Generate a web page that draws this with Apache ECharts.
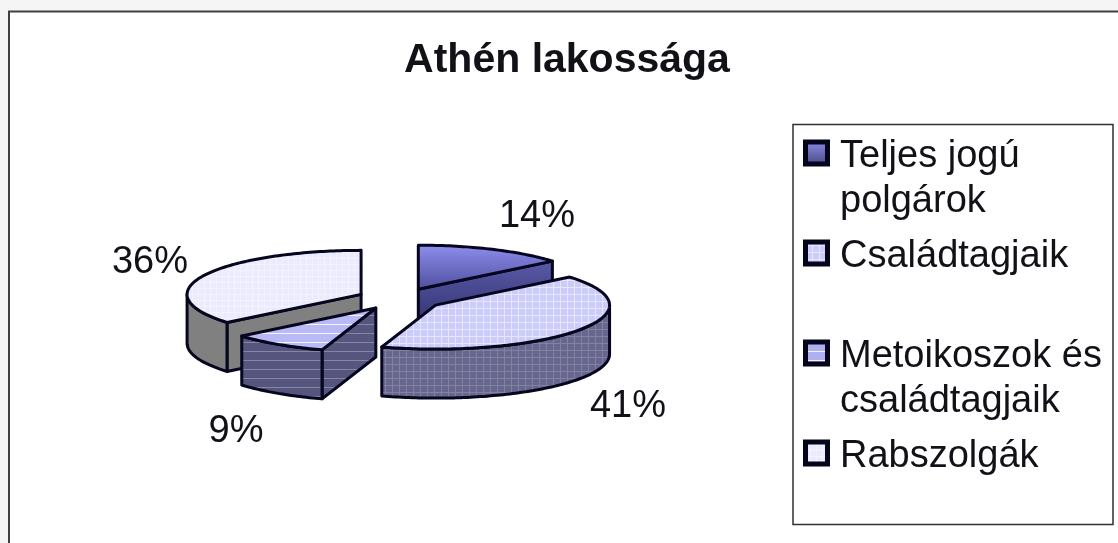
<!DOCTYPE html>
<html>
<head>
<meta charset="utf-8">
<style>
html,body{margin:0;padding:0;background:#f5f5f5;}
#main{width:1118px;height:543px;}
</style>
<script src="https://cdn.jsdelivr.net/npm/echarts@6/dist/echarts.min.js"></script>
</head>
<body>
<div id="main"></div>
<script>
var chartTitle = 'Athén lakossága';
var categories = ['Teljes jogú\npolgárok', 'Családtagjaik', 'Metoikoszok és\ncsaládtagjaik', 'Rabszolgák'];
var shares = [14, 41, 9, 36];

// layout of the fake 3d pie
var pieX = 400, pieY = 299, pieRx = 174, pieRy = 44, pieDepth = 49, pieExplode = 43;
var labelPos = [[537, 217], [628, 407], [236, 432], [150, 263]];
var fontName = '"Liberation Sans", Arial, sans-serif';
var lineColor = '#06061e';

function gradient(c1, c2){
    return new echarts.graphic.LinearGradient(0, 0, 0, 1, [{offset:0, color:c1}, {offset:1, color:c2}]);
}

// small tiles for the old office style fills
function tile(size, bg, line, lineW, vertical){
    var c = document.createElement('canvas');
    c.width = size; c.height = size;
    var g = c.getContext('2d');
    g.fillStyle = bg;
    g.fillRect(0, 0, size, size);
    g.fillStyle = line;
    g.fillRect(0, 0, size, lineW);
    if(vertical) g.fillRect(0, 0, lineW, size);
    return {image:c, repeat:'repeat'};
}

var topFill = [
    gradient('#8f8ff0', '#4e4e9c'),
    tile(7, '#ccccfb', '#e6e6ff', 1, true),
    tile(9, '#b9b9f6', '#f4f4ff', 1, false),
    tile(6, '#ebebfd', '#f3f3ff', 1, true)
];
var wallFill = [
    gradient('#5a5aa8', '#2a2a66'),
    tile(7, '#66668f', '#82829f', 1, true),
    tile(9, '#55557e', '#8585a5', 1, false),
    '#808080'
];
var legendFill = [
    gradient('#8f8ff0', '#45457a'),
    tile(7, '#ccccfb', '#e6e6ff', 1, true),
    tile(9, '#b0b0f0', '#f4f4ff', 1, false),
    tile(6, '#ebebfd', '#f3f3ff', 1, true)
];

function renderSlice(params, api){
    var i = params.dataIndex;
    var total = 0, before = 0;
    for(var k = 0; k < shares.length; k++){
        total += shares[k];
        if(k < i) before += shares[k];
    }
    var a0 = before / total * Math.PI * 2;
    var a1 = (before + shares[i]) / total * Math.PI * 2;
    var mid = (a0 + a1) / 2;
    var cx = pieX + pieExplode * Math.sin(mid);
    var cy = pieY - pieExplode * pieRy / pieRx * Math.cos(mid);
    var baseZ = Math.round(cy) * 10;

    function pt(a, dy){
        return [cx + pieRx * Math.sin(a), cy - pieRy * Math.cos(a) + (dy || 0)];
    }
    function arc(from, to, dy){
        var res = [];
        var n = Math.max(2, Math.ceil((to - from) / 0.02));
        for(var s = 0; s <= n; s++) res.push(pt(from + (to - from) * s / n, dy));
        return res;
    }
    function face(points, fill, z){
        return {
            type:'polygon',
            shape:{points:points},
            style:{fill:fill, stroke:lineColor, lineWidth:3, lineJoin:'round'},
            z2:baseZ + z
        };
    }
    function radialWall(a){
        var p = pt(a);
        return face([[cx, cy], p, [p[0], p[1] + pieDepth], [cx, cy + pieDepth]], wallFill[i], 1);
    }

    var children = [];
    if(Math.sin(a0) < -1e-6) children.push(radialWall(a0));
    if(Math.sin(a1) > 1e-6) children.push(radialWall(a1));

    // outer wall only on the front half of the ellipse
    var f0 = Math.max(a0, Math.PI / 2), f1 = Math.min(a1, Math.PI * 1.5);
    if(f1 > f0){
        children.push(face(arc(f0, f1, 0).concat(arc(f0, f1, pieDepth).reverse()), wallFill[i], 2));
    }
    children.push(face([[cx, cy]].concat(arc(a0, a1, 0)), topFill[i], 3));
    children.push({
        type:'text',
        style:{
            x:labelPos[i][0], y:labelPos[i][1],
            text:shares[i] + '%',
            font:'38px ' + fontName,
            fill:'#111118',
            align:'center', verticalAlign:'middle'
        },
        z2:9000
    });
    return {type:'group', children:children};
}

function legendGraphics(){
    var els = [{
        type:'rect',
        shape:{x:793, y:124.5, width:320, height:400},
        style:{fill:'#ffffff', stroke:'#303030', lineWidth:1.5}
    }];
    for(var i = 0; i < categories.length; i++){
        var y = 153 + i * 100;
        els.push({
            type:'rect',
            shape:{x:805.5, y:y - 11, width:22, height:22},
            style:{fill:legendFill[i], stroke:'#04041a', lineWidth:5}
        });
        els.push({
            type:'text',
            style:{
                x:840, y:y - 19,
                text:categories[i],
                font:'38px ' + fontName,
                lineHeight:45,
                fill:'#111118',
                align:'left', verticalAlign:'top'
            }
        });
    }
    return els;
}

var chart = echarts.init(document.getElementById('main'));
var seriesData = [];
for(var x in categories){
    seriesData.push({name:categories[x], value:shares[x]});
}
chart.setOption({
    animation:false,
    backgroundColor:'#f5f5f5',
    title:{
        text:chartTitle,
        left:562, top:35,
        textAlign:'center',
        textStyle:{fontFamily:fontName, fontSize:41, fontWeight:'bold', color:'#111118'}
    },
    // only the top and left edge of the frame are in the picture
    graphic:[{
        type:'rect', z:-1,
        shape:{x:9, y:11.5, width:1130, height:550},
        style:{fill:'#ffffff', stroke:'#404040', lineWidth:2}
    }, {
        type:'group', z:1, children:legendGraphics()
    }],
    series:[{
        type:'custom',
        coordinateSystem:'none',
        data:seriesData,
        renderItem:renderSlice
    }]
});
</script>
</body>
</html>
